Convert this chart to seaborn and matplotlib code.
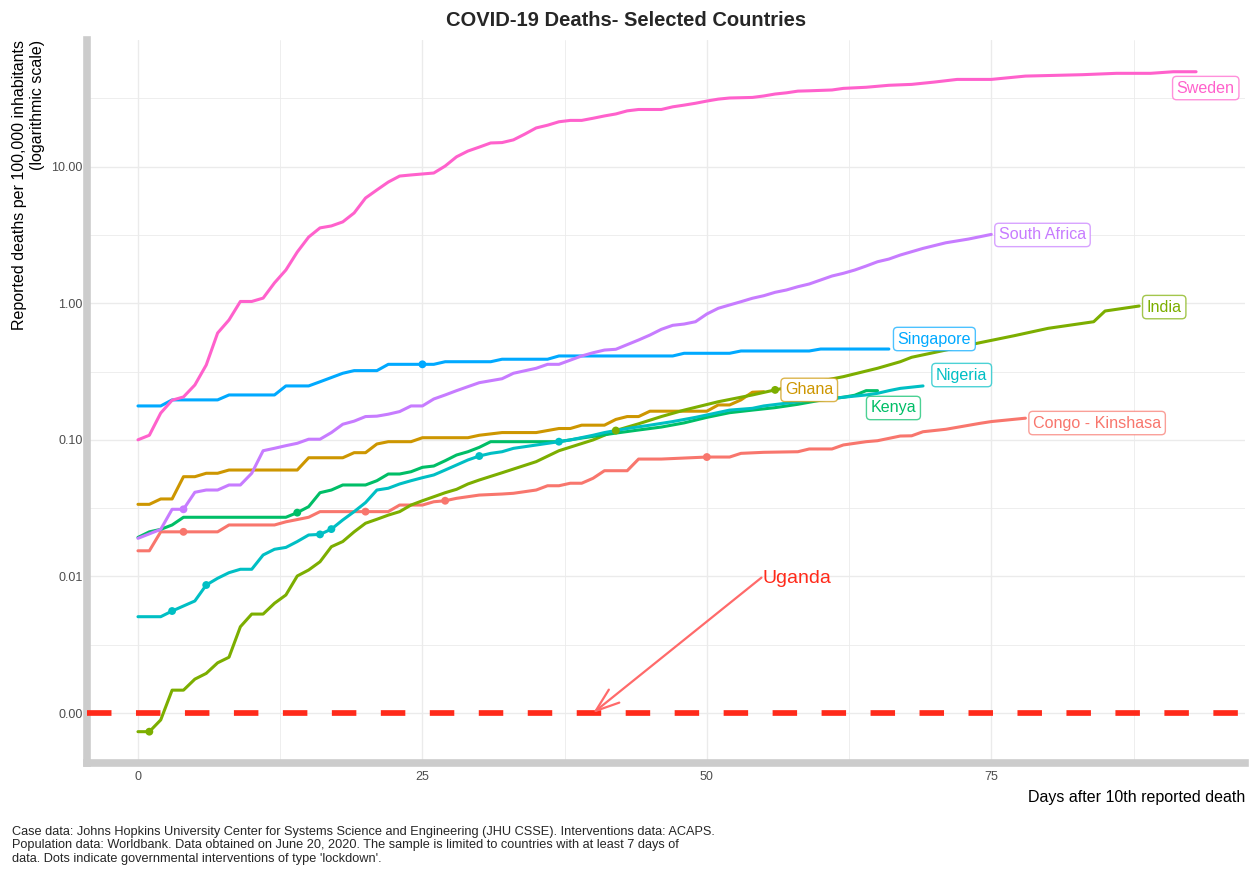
import numpy as np
import pandas as pd
import matplotlib
matplotlib.use("Agg")
import matplotlib.pyplot as plt
import seaborn as sns
from matplotlib.ticker import FixedLocator, FuncFormatter, NullFormatter

# ---------------- data ----------------
countries = ["Congo - Kinshasa", "Ghana", "India", "Kenya", "Nigeria",
             "Singapore", "South Africa", "Sweden"]

congo_days = [0, 1, 2, 7, 8, 12, 13, 15, 16, 22, 23, 25, 26, 27, 28, 30, 32, 33, 35, 36, 37,
              38, 39, 40, 41, 43, 44, 46, 50, 52, 53, 55, 58, 59, 61, 62, 64, 65, 67, 68, 69,
              71, 74, 75, 78]
congo_vals = [0.0154, 0.0154, 0.0212, 0.0212, 0.0238, 0.0238, 0.0251, 0.0271, 0.0298, 0.0298,
              0.0333, 0.0333, 0.0352, 0.0358, 0.0373, 0.0394, 0.0401, 0.0406, 0.0429, 0.0461,
              0.0461, 0.0481, 0.0481, 0.0523, 0.0594, 0.0594, 0.0723, 0.0723, 0.0748, 0.0748,
              0.0796, 0.0810, 0.0818, 0.0857, 0.0857, 0.0917, 0.0969, 0.0985, 0.1066, 0.107,
              0.1146, 0.1194, 0.132, 0.136, 0.144]

ghana_days = [0, 1, 2, 3, 4, 5, 6, 7, 8, 14, 15, 18, 19, 20, 21, 22, 24, 25, 29, 30, 32, 35,
              37, 38, 39, 41, 42, 43, 44, 45, 50, 51, 52, 53, 54, 55]
ghana_vals = [0.0337, 0.0337, 0.0369, 0.0369, 0.0537, 0.0537, 0.0569, 0.0569, 0.0601, 0.0601,
              0.0739, 0.0739, 0.0805, 0.0805, 0.0932, 0.0969, 0.0969, 0.1036, 0.1036, 0.108,
              0.113, 0.113, 0.121, 0.121, 0.128, 0.128, 0.141, 0.148, 0.148, 0.162, 0.162,
              0.180, 0.180, 0.196, 0.223, 0.225]

india_days = [0, 1, 2, 3, 4, 5, 6, 7, 8, 9, 10, 11, 12, 13, 14, 15, 16, 17, 18, 19, 20, 21,
              22, 23, 24, 25, 26, 27, 28, 29, 30, 32, 35, 37, 40, 42, 44, 46, 48, 51, 54, 56,
              59, 62, 65, 67, 68, 71, 74, 77, 80, 84, 85, 88]
india_vals = [0.00073, 0.00073, 0.00089, 0.00147, 0.00147, 0.00177, 0.00195, 0.00233, 0.00256,
              0.00428, 0.00530, 0.00530, 0.00636, 0.00731, 0.01007, 0.01114, 0.0128, 0.0165,
              0.0180, 0.0212, 0.0245, 0.0262, 0.0281, 0.0298, 0.0333, 0.0358, 0.0383, 0.0410,
              0.0434, 0.0475, 0.0508, 0.0574, 0.0692, 0.0832, 0.0998, 0.117, 0.131, 0.148,
              0.165, 0.190, 0.213, 0.232, 0.259, 0.290, 0.334, 0.373, 0.402, 0.454, 0.514,
              0.578, 0.655, 0.732, 0.877, 0.954]

kenya_days = [0, 1, 2, 3, 4, 13, 14, 15, 16, 17, 18, 20, 21, 22, 23, 24, 25, 26, 27, 28, 29,
              30, 31, 37, 39, 42, 44, 46, 48, 50, 52, 54, 56, 58, 60, 62, 63, 64, 65]
kenya_vals = [0.0193, 0.0212, 0.0221, 0.0238, 0.0271, 0.0271, 0.0293, 0.0324, 0.0410, 0.0429,
              0.0467, 0.0467, 0.0502, 0.0562, 0.0562, 0.0584, 0.0629, 0.0643, 0.0703, 0.0774,
              0.0818, 0.0881, 0.0969, 0.0969, 0.103, 0.112, 0.118, 0.124, 0.133, 0.146, 0.158,
              0.165, 0.172, 0.182, 0.195, 0.205, 0.212, 0.229, 0.229]

nigeria_days = [0, 2, 3, 5, 6, 7, 8, 9, 10, 11, 12, 13, 14, 15, 16, 17, 18, 19, 20, 21, 22,
                23, 24, 25, 26, 27, 28, 29, 30, 31, 32, 33, 35, 37, 38, 40, 41, 43, 45, 47, 49,
                50, 52, 54, 55, 58, 59, 61, 64, 65, 66, 67, 69]
nigeria_vals = [0.00507, 0.00507, 0.00558, 0.00661, 0.00865, 0.00969, 0.01065, 0.01128,
                0.01128, 0.01435, 0.0158, 0.0163, 0.0180, 0.0201, 0.0203, 0.0222, 0.0259,
                0.0298, 0.0347, 0.0429, 0.0442, 0.0475, 0.0502, 0.0528, 0.0553, 0.0601, 0.0654,
                0.0712, 0.0761, 0.0796, 0.0818, 0.0866, 0.0916, 0.0969, 0.0998, 0.108, 0.113,
                0.121, 0.128, 0.136, 0.146, 0.152, 0.165, 0.170, 0.177, 0.190, 0.196, 0.201,
                0.213, 0.219, 0.229, 0.238, 0.248]

singapore_days = [0, 2, 3, 7, 8, 12, 13, 15, 16, 18, 19, 21, 22, 26, 27, 31, 32, 36, 37, 47,
                  48, 52, 53, 59, 60, 66]
singapore_vals = [0.177, 0.177, 0.196, 0.196, 0.213, 0.213, 0.248, 0.248, 0.266, 0.307, 0.321,
                  0.321, 0.357, 0.357, 0.373, 0.373, 0.389, 0.389, 0.411, 0.411, 0.430, 0.430,
                  0.447, 0.447, 0.462, 0.462]

safrica_days = [0, 2, 3, 4, 5, 6, 7, 8, 9, 10, 11, 12, 13, 14, 15, 16, 17, 18, 19, 20, 21,
                22, 23, 24, 25, 26, 27, 28, 29, 30, 32, 33, 35, 36, 37, 39, 40, 41, 42, 44, 45,
                46, 47, 48, 49, 50, 51, 52, 53, 54, 55, 56, 57, 58, 59, 60, 61, 62, 63, 64, 65,
                66, 67, 69, 71, 73, 75]
safrica_vals = [0.0190, 0.0221, 0.0310, 0.0310, 0.0413, 0.0429, 0.0429, 0.0467, 0.0467,
                0.0569, 0.0832, 0.0867, 0.0906, 0.0943, 0.101, 0.101, 0.113, 0.130, 0.137,
                0.148, 0.149, 0.154, 0.161, 0.177, 0.177, 0.199, 0.213, 0.229, 0.245, 0.262,
                0.280, 0.307, 0.334, 0.357, 0.357, 0.411, 0.434, 0.454, 0.460, 0.538, 0.585,
                0.644, 0.689, 0.704, 0.732, 0.834, 0.918, 0.971, 1.026, 1.087, 1.135, 1.202,
                1.250, 1.321, 1.383, 1.479, 1.582, 1.656, 1.750, 1.872, 2.012, 2.105, 2.253,
                2.52, 2.77, 2.95, 3.19]

sweden_days = [0, 1, 2, 3, 4, 5, 6, 7, 8, 9, 10, 11, 12, 13, 14, 15, 16, 17, 18, 19, 20, 21,
               22, 23, 24, 26, 27, 28, 29, 30, 31, 32, 33, 34, 35, 36, 37, 38, 39, 40, 41, 42,
               43, 44, 46, 47, 48, 49, 50, 51, 52, 54, 55, 56, 57, 58, 59, 61, 62, 64, 66, 68,
               70, 72, 75, 78, 83, 86, 89, 91, 93]
sweden_vals = [0.100, 0.108, 0.157, 0.195, 0.206, 0.252, 0.353, 0.605, 0.754, 1.03, 1.03,
               1.09, 1.41, 1.75, 2.37, 3.05, 3.56, 3.68, 3.94, 4.58, 5.89, 6.75, 7.71, 8.53,
               8.69, 8.98, 10.1, 11.8, 13.0, 13.9, 14.9, 15.0, 15.7, 17.3, 19.2, 20.1, 21.3,
               21.8, 21.8, 22.6, 23.5, 24.3, 25.6, 26.2, 26.2, 27.4, 28.2, 29.1, 30.2, 31.2,
               31.8, 32.1, 32.9, 34.0, 34.7, 35.7, 35.9, 36.4, 37.4, 38.1, 39.4, 40.0, 41.6,
               43.5, 43.5, 46.0, 47.1, 48.2, 48.2, 49.5, 49.5]

# lockdown interventions (days after 10th death)
congo_lockdowns = [4, 20, 27, 50]
india_lockdowns = [1, 42, 56]
kenya_lockdowns = [14]
nigeria_lockdowns = [3, 6, 16, 17, 30, 37]
singapore_lockdowns = [25]
safrica_lockdowns = [4]

uganda_level = 0.001  # Uganda: no reported deaths

title = "COVID-19 Deaths- Selected Countries"
y_title = "Reported deaths per 100,000 inhabitants\n(logarithmic scale)"
x_title = "Days after 10th reported death"
caption = ("Case data: Johns Hopkins University Center for Systems Science and Engineering "
           "(JHU CSSE). Interventions data: ACAPS.\n"
           "Population data: Worldbank. Data obtained on June 20, 2020. The sample is limited "
           "to countries with at least 7 days of\n"
           "data. Dots indicate governmental interventions of type 'lockdown'.")
x_ticks = [0, 25, 50, 75]
y_ticks = [0.001, 0.01, 0.1, 1, 10]

# ---------------- assemble ----------------
series = {
    "Congo - Kinshasa": (congo_days, congo_vals, congo_lockdowns),
    "Ghana": (ghana_days, ghana_vals, []),
    "India": (india_days, india_vals, india_lockdowns),
    "Kenya": (kenya_days, kenya_vals, kenya_lockdowns),
    "Nigeria": (nigeria_days, nigeria_vals, nigeria_lockdowns),
    "Singapore": (singapore_days, singapore_vals, singapore_lockdowns),
    "South Africa": (safrica_days, safrica_vals, safrica_lockdowns),
    "Sweden": (sweden_days, sweden_vals, []),
}
rows, dots = [], []
for c in countries:
    d, v, lk = series[c]
    rows += [(c, di, vi) for di, vi in zip(d, v)]
    for Ld in lk:
        dots.append((c, Ld, float(np.exp(np.interp(Ld, d, np.log(v))))))
df = pd.DataFrame(rows, columns=["country", "day", "value"])
dots_df = pd.DataFrame(dots, columns=["country", "day", "value"])

# ---------------- style ----------------
palette = dict(zip(countries, ["#F8766D", "#CD9600", "#7CAE00", "#00BE67",
                               "#00BFC4", "#00A9FF", "#C77CFF", "#FF61CC"]))
label_pos = {
    "Sweden": (93.85, 37.6), "South Africa": (79.5, 3.16), "India": (90.2, 0.937),
    "Singapore": (70.0, 0.547), "Nigeria": (72.4, 0.298), "Kenya": (66.4, 0.171),
    "Congo - Kinshasa": (84.3, 0.1327), "Ghana": (59.0, 0.232),
}

sns.set_theme(style="white")
plt.rcParams["font.family"] = ["Liberation Sans", "DejaVu Sans"]

W, H = 1252, 872
fig = plt.figure(figsize=(W / 100, H / 100), dpi=100)
L, R, T, B = 87, 1245, 40, 763
ax = fig.add_axes([L / W, 1 - B / H, (R - L) / W, (B - T) / H])

sns.lineplot(data=df, x="day", y="value", hue="country", hue_order=countries,
             palette=palette, lw=2.2, legend=False, ax=ax, estimator=None, sort=True,
             zorder=3)
sns.scatterplot(data=dots_df, x="day", y="value", hue="country", hue_order=countries,
                palette=palette, s=32, edgecolor="none", legend=False, ax=ax, zorder=4)

ax.set_yscale("log")
ax.set_xlim(-4.48, 97.3)
ax.set_ylim(10 ** -3.366, 10 ** 1.927)
ax.set_xticks(x_ticks)
ax.set_yticks(y_ticks)
ax.yaxis.set_major_formatter(FuncFormatter(lambda v, p: f"{v:.2f}"))
ax.xaxis.set_major_formatter(FuncFormatter(lambda v, p: f"{v:g}"))
ax.xaxis.set_minor_locator(FixedLocator([12.5, 37.5, 62.5, 87.5]))
ax.yaxis.set_minor_locator(FixedLocator(10 ** np.array([-2.5, -1.5, -0.5, 0.5, 1.5])))
ax.yaxis.set_minor_formatter(NullFormatter())
ax.xaxis.set_minor_formatter(NullFormatter())
ax.tick_params(which="both", length=0, labelsize=9, labelcolor="#4D4D4D")
ax.tick_params(axis="y", pad=3)
ax.tick_params(axis="x", pad=5.5)
ax.grid(which="major", color="#EBEBEB", lw=1.0)
ax.grid(which="minor", color="#EBEBEB", lw=0.6)
ax.set_axisbelow(True)
for s in ["top", "right"]:
    ax.spines[s].set_visible(False)
for s in ["left", "bottom"]:
    ax.spines[s].set_color("#CCCCCC")
    ax.spines[s].set_linewidth(5.5)

ax.set_ylabel(y_title, loc="top", fontsize=11.5, labelpad=5, color="black")
ax.set_xlabel(x_title, loc="right", fontsize=11.5, labelpad=5, color="black")

# Uganda reference
ax.axhline(uganda_level, color="#FF2A1A", lw=4.1, ls=(0, (4.3, 4.3)), zorder=5)
ax.annotate("", xy=(40, uganda_level), xytext=(54.8, 0.0098),
            arrowprops=dict(arrowstyle="->,head_length=0.85,head_width=0.3",
                            color="#FF6A6A", lw=1.6, shrinkA=0, shrinkB=0,
                            mutation_scale=20), zorder=6)
ax.text(54.9, 0.0096, "Uganda", color="#FF2A1A", fontsize=14, ha="left", va="center",
        zorder=6)

# country labels
for c in countries:
    x, y = label_pos[c]
    col = palette[c]
    ax.text(x, y, c, color=col, fontsize=11.6, ha="center", va="center", zorder=7,
            bbox=dict(boxstyle="round,pad=0.26,rounding_size=0.25", fc="white",
                      ec=matplotlib.colors.to_rgba(col, 0.7), lw=1.0))

fig.text(0.5, 1 - 20 / H, title, ha="center", va="center", fontsize=14.5,
         fontweight="bold")
fig.text(12 / W, 1 - 826 / H, caption, ha="left", va="top", fontsize=9.15,
         linespacing=1.16)

fig.savefig("out.png", dpi=100, facecolor="white")
